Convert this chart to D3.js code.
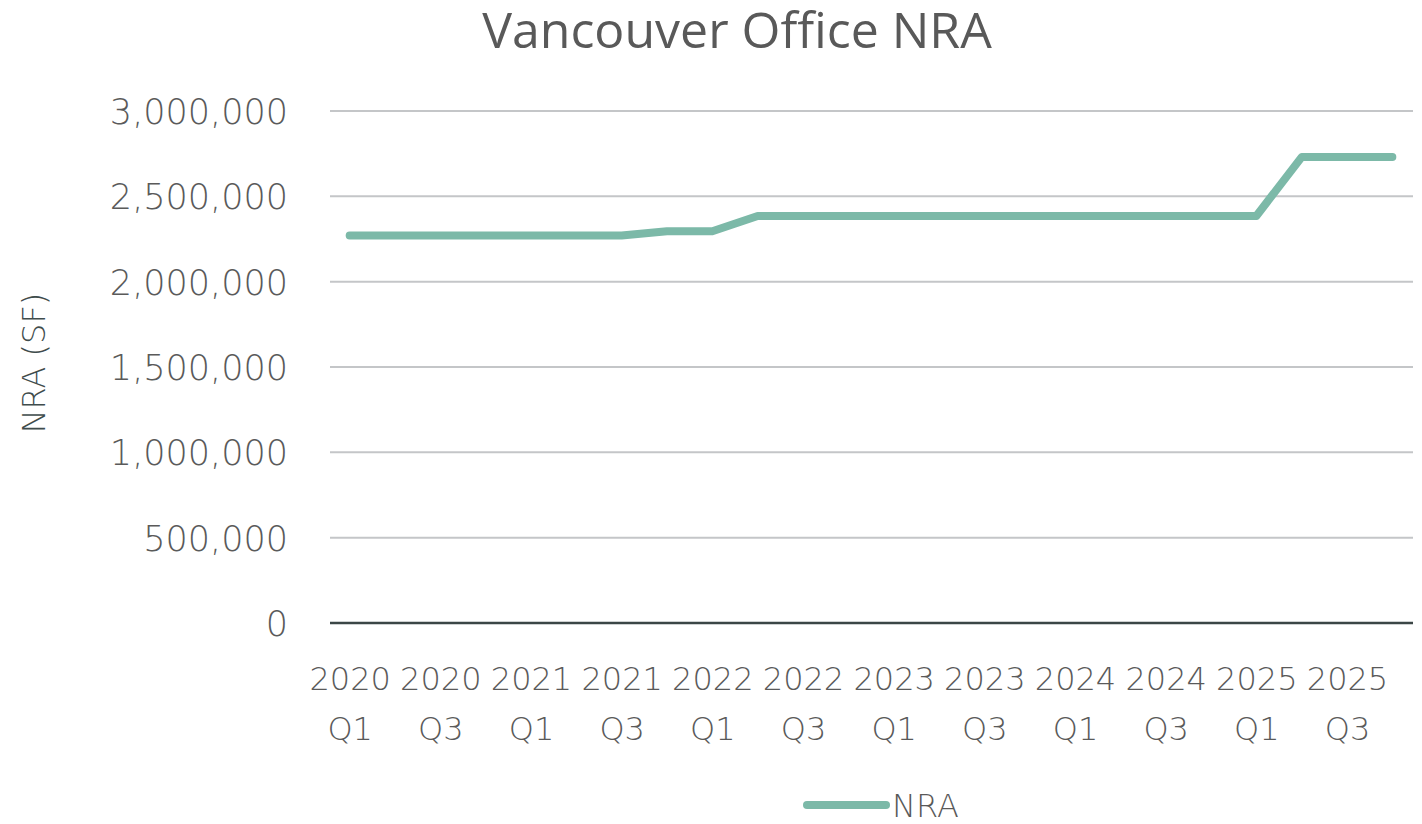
<!DOCTYPE html>
<html><head><meta charset="utf-8">
<script src="https://cdn.jsdelivr.net/npm/d3@7"></script>
<style>body{margin:0;background:#fff}svg{display:block}</style>
</head><body><svg id="c" width="1422" height="824"></svg>
<script>
const quarters = ["2020 Q1","2020 Q2","2020 Q3","2020 Q4","2021 Q1","2021 Q2","2021 Q3","2021 Q4",
  "2022 Q1","2022 Q2","2022 Q3","2022 Q4","2023 Q1","2023 Q2","2023 Q3","2023 Q4",
  "2024 Q1","2024 Q2","2024 Q3","2024 Q4","2025 Q1","2025 Q2","2025 Q3","2025 Q4"];
const nra = [2270000,2270000,2270000,2270000,2270000,2270000,2270000,2295000,
  2295000,2385000,2385000,2385000,2385000,2385000,2385000,2385000,
  2385000,2385000,2385000,2385000,2385000,2730000,2730000,2730000];
const yTicks = [0,500000,1000000,1500000,2000000,2500000,3000000];
const title = "Vancouver Office NRA";
const yTitle = "NRA (SF)";
const seriesName = "NRA";

const svg = d3.select("#c");
const labelFont = "'DejaVu Sans', sans-serif";
const x = d3.scalePoint().domain(quarters).range([327, 1415]).padding(0.5);
const y = d3.scaleLinear().domain([0, 3000000]).range([623, 111]);

// gridlines
svg.append("g").selectAll("line").data(yTicks.filter(d => d > 0)).join("line")
  .attr("x1", 330).attr("x2", 1413).attr("y1", d => y(d)).attr("y2", d => y(d))
  .attr("stroke", "#c4c6c8").attr("stroke-width", 2);

// y axis labels
const yAxis = svg.append("g").attr("transform", "translate(288,0)")
  .call(d3.axisLeft(y).tickValues(yTicks).tickSize(0).tickPadding(0).tickFormat(d3.format(",")));
yAxis.select(".domain").remove();
yAxis.selectAll("text").attr("font-family", labelFont).attr("font-size", 35).attr("fill", "#5a5a5a")
  .attr("font-weight", 300).attr("dy", "0.36em");

// zero line
svg.append("line").attr("x1", 330).attr("x2", 1413).attr("y1", y(0)).attr("y2", y(0))
  .attr("stroke", "#3b4646").attr("stroke-width", 2.5);

// x axis labels
const xAxis = svg.append("g").attr("transform", "translate(0,623)")
  .call(d3.axisBottom(x).tickValues(quarters.filter((d, i) => i % 2 === 0)).tickSize(0).tickFormat(""));
xAxis.select(".domain").remove();
xAxis.selectAll(".tick").each(function(d) {
  const parts = d.split(" ");
  const t = d3.select(this).append("text").attr("font-family", labelFont).attr("font-size", 32)
    .attr("font-weight", 300).attr("fill", "#5a5a5a").attr("text-anchor", "middle");
  t.append("tspan").attr("x", 0).attr("y", 67).text(parts[0]);
  t.append("tspan").attr("x", 0).attr("y", 117).text(parts[1]);
});

// line
svg.append("path").datum(nra)
  .attr("d", d3.line().x((d, i) => x(quarters[i])).y(d => y(d)))
  .attr("fill", "none").attr("stroke", "#7cb9a8").attr("stroke-width", 8)
  .attr("stroke-linecap", "round").attr("stroke-linejoin", "round");

// title
svg.append("text").attr("x", 737).attr("y", 48).attr("text-anchor", "middle")
  .attr("font-family", "'Open Sans', sans-serif").attr("font-size", 50).attr("fill", "#595959").text(title);

// y title
svg.append("text").attr("transform", "translate(45,363) rotate(-90)").attr("text-anchor", "middle")
  .attr("font-family", labelFont).attr("font-weight", 300).attr("font-size", 32).attr("fill", "#3f4c4c").text(yTitle);

// legend
svg.append("line").attr("x1", 807).attr("x2", 886).attr("y1", 805).attr("y2", 805)
  .attr("stroke", "#7cb9a8").attr("stroke-width", 8).attr("stroke-linecap", "round");
svg.append("text").attr("x", 892).attr("y", 817).attr("font-family", labelFont).attr("font-weight", 300)
  .attr("font-size", 32).attr("fill", "#595959").text(seriesName);
</script></body></html>
